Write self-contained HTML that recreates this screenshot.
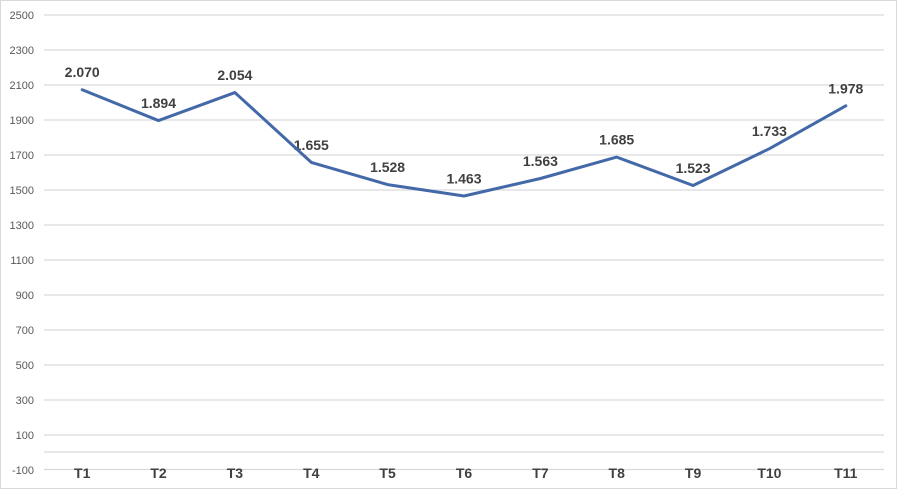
<!DOCTYPE html>
<html><head><meta charset="utf-8"><style>
html,body{margin:0;padding:0;background:#fff;}
svg{display:block;}
</style></head><body>
<svg width="899" height="491" viewBox="0 0 899 491" xmlns="http://www.w3.org/2000/svg">
<rect x="0.5" y="0.5" width="896" height="488" fill="#fff" stroke="#d9d9d9" stroke-width="1"/>
<g stroke="#d9d9d9" stroke-width="1.3">
<line x1="44" x2="884" y1="15" y2="15"/>
<line x1="44" x2="884" y1="50" y2="50"/>
<line x1="44" x2="884" y1="85" y2="85"/>
<line x1="44" x2="884" y1="120" y2="120"/>
<line x1="44" x2="884" y1="155" y2="155"/>
<line x1="44" x2="884" y1="190" y2="190"/>
<line x1="44" x2="884" y1="225" y2="225"/>
<line x1="44" x2="884" y1="260" y2="260"/>
<line x1="44" x2="884" y1="295" y2="295"/>
<line x1="44" x2="884" y1="330" y2="330"/>
<line x1="44" x2="884" y1="365" y2="365"/>
<line x1="44" x2="884" y1="400" y2="400"/>
<line x1="44" x2="884" y1="435" y2="435"/>
<line x1="44" x2="884" y1="452" y2="452"/>
<line x1="44" x2="884" y1="469.5" y2="469.5"/>
</g>
<g font-family="Liberation Sans, sans-serif" font-size="11" fill="#595959" text-anchor="end">
<text x="34" y="19">2500</text>
<text x="34" y="54">2300</text>
<text x="34" y="89">2100</text>
<text x="34" y="124">1900</text>
<text x="34" y="159">1700</text>
<text x="34" y="194">1500</text>
<text x="34" y="229">1300</text>
<text x="34" y="264">1100</text>
<text x="34" y="299">900</text>
<text x="34" y="334">700</text>
<text x="34" y="369">500</text>
<text x="34" y="404">300</text>
<text x="34" y="439">100</text>
<text x="34" y="474">-100</text>
</g>
<g font-family="Liberation Sans, sans-serif" font-size="14" font-weight="bold" fill="#404040" text-anchor="middle">
<text x="82.2" y="478">T1</text>
<text x="158.5" y="478">T2</text>
<text x="234.9" y="478">T3</text>
<text x="311.3" y="478">T4</text>
<text x="387.6" y="478">T5</text>
<text x="464" y="478">T6</text>
<text x="540.4" y="478">T7</text>
<text x="616.7" y="478">T8</text>
<text x="693.1" y="478">T9</text>
<text x="769.4" y="478">T10</text>
<text x="845.8" y="478">T11</text>
</g>
<g font-family="Liberation Sans, sans-serif" font-size="14" font-weight="bold" fill="#404040" text-anchor="middle">
<text x="82.2" y="77">2.070</text>
<text x="158.5" y="108">1.894</text>
<text x="234.9" y="80">2.054</text>
<text x="311.3" y="150">1.655</text>
<text x="387.6" y="172">1.528</text>
<text x="464" y="183.5">1.463</text>
<text x="540.4" y="166">1.563</text>
<text x="616.7" y="144.5">1.685</text>
<text x="693.1" y="173">1.523</text>
<text x="769.4" y="136">1.733</text>
<text x="845.8" y="93.5">1.978</text>
</g>
<polyline fill="none" stroke="#4369a8" stroke-width="3" stroke-linejoin="round" stroke-linecap="round"
points="82.2,89.75 158.5,120.55 234.9,92.55 311.3,162.4 387.6,184.6 464,196 540.4,178.5 616.7,157.1 693.1,185.5 769.4,148.7 845.8,105.85"/>
</svg>
</body></html>
